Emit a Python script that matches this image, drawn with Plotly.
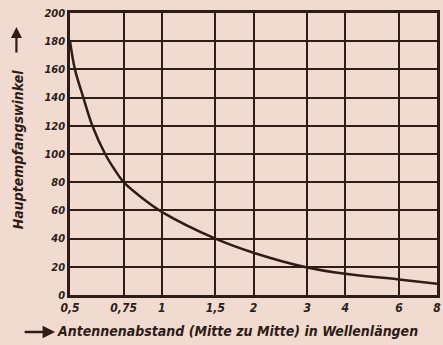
import plotly.graph_objects as go

# Data
abstand = [0.5, 0.519, 0.553, 0.592, 0.652, 0.70, 0.75, 0.86, 1.0, 1.5, 2.0, 3.0, 4.0, 6.0, 8.0]
winkel = [180, 160, 140, 120, 100, 89, 80, 69, 59, 40, 30, 19.5, 15, 11, 8]

x_tickvals = [0.5, 0.75, 1, 1.5, 2, 3, 4, 6, 8]
x_ticktext = ["0,5", "0,75", "1", "1,5", "2", "3", "4", "6", "8"]
y_tickvals = [0, 20, 40, 60, 80, 100, 120, 140, 160, 180, 200]
y_ticktext = [str(v) for v in y_tickvals]

ink = "#2e1c17"
bg = "#f1dbd1"
font_family = "DejaVu Sans Condensed, Liberation Sans Narrow, Arial Narrow, sans-serif"

fig = go.Figure()
fig.add_trace(go.Scatter(
    x=abstand, y=winkel, mode="lines",
    line=dict(color=ink, width=2.5, shape="spline", smoothing=1.0),
    hoverinfo="skip", showlegend=False,
))

fig.update_layout(
    width=443, height=345,
    margin=dict(l=70, r=3, t=13, b=50),
    paper_bgcolor=bg, plot_bgcolor=bg,
    font=dict(family=font_family, color=ink, size=12, style="italic", weight="bold"),
    xaxis=dict(
        type="log", range=[0.69897 - 1, 0.90309],
        tickvals=x_tickvals, ticktext=x_ticktext,
        showgrid=True, gridcolor=ink, gridwidth=2,
        showline=True, linecolor=ink, linewidth=2.5, mirror=True,
        ticks="", zeroline=False,
        tickfont=dict(size=12, style="italic", weight="bold"),
    ),
    yaxis=dict(
        range=[0, 200],
        tickvals=y_tickvals, ticktext=y_ticktext,
        showgrid=True, gridcolor=ink, gridwidth=2,
        showline=True, linecolor=ink, linewidth=2.5, mirror=True,
        ticks="", zeroline=False,
        tickfont=dict(size=11, style="italic", weight="bold"),
    ),
    annotations=[
        dict(text="Antennenabstand (Mitte zu Mitte) in Wellenlängen",
             xref="paper", yref="paper", x=0.457, y=-0.128,
             xanchor="center", yanchor="middle", showarrow=False,
             font=dict(size=14, style="italic", weight="bold", color=ink)),
        dict(text="", xref="paper", yref="paper", x=-0.0405, y=-0.131,
             showarrow=True, ax=-32, ay=0, arrowhead=2, arrowsize=1,
             arrowwidth=2.5, arrowcolor=ink),
        dict(text="Hauptempfangswinkel",
             xref="paper", yref="paper", x=-0.143, y=0.515,
             xanchor="center", yanchor="middle", showarrow=False, textangle=-90,
             font=dict(size=14, style="italic", weight="bold", color=ink)),
        dict(text="", xref="paper", yref="paper", x=-0.146, y=0.95,
             showarrow=True, ax=0, ay=27, arrowhead=2, arrowsize=1,
             arrowwidth=2.2, arrowcolor=ink),
    ],
)

fig.write_html(
    "out.html",
    config={"displayModeBar": False},
    post_script="document.body.style.margin='0';document.body.style.background='%s';" % bg,
)
